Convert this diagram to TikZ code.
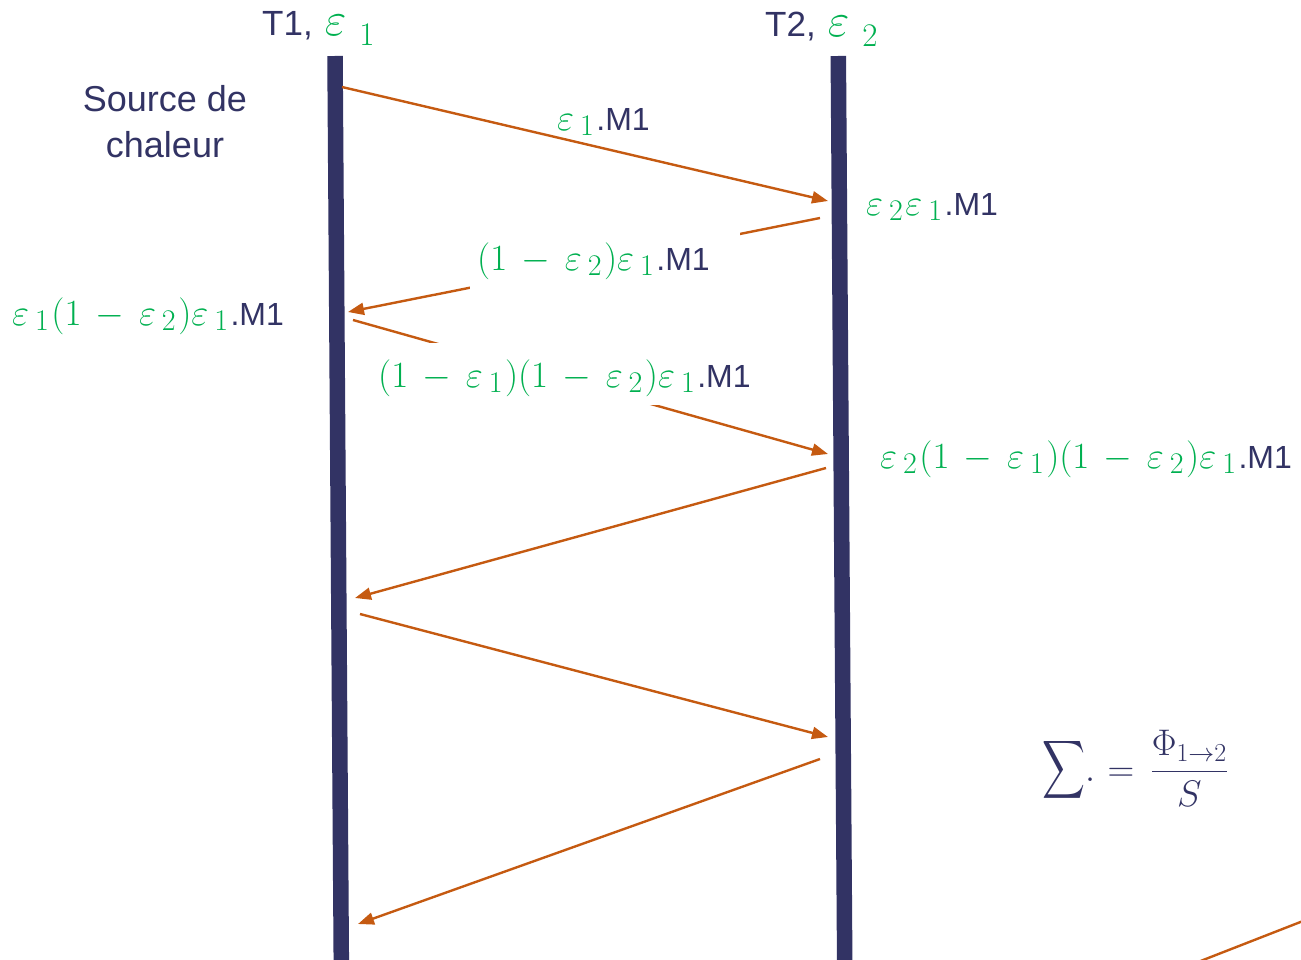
\RequirePackage{fix-cm}
\documentclass[tikz,border=0pt]{standalone}
\usepackage{exscale}
\usepackage{graphicx}
\usepackage[no-math]{fontspec}
\setmainfont{Liberation Sans}
\usetikzlibrary{arrows.meta}
\definecolor{navy}{RGB}{50,51,100}
\definecolor{rust}{RGB}{197,90,17}
\definecolor{grn}{RGB}{0,176,80}
\medmuskip=7mu plus 2mu minus 4mu\relax
\newcommand{\ep}[1]{\varepsilon\kern6pt\lower5pt\hbox{\fontsize{30}{32}\selectfont$#1$}\kern2.5pt}
\newcommand{\hep}[1]{\varepsilon\kern13pt\lower10pt\hbox{\fontsize{33}{36}\selectfont$#1$}}
\newcommand{\mone}{\textcolor{navy}{\fontsize{32}{38}\selectfont.M1}}
\begin{document}
\begin{tikzpicture}[x=1pt,y=-1pt,
  bar/.style={line width=15.5pt, draw=navy},
  ray/.style={draw=rust, line width=2.4pt, -{Triangle[length=16pt,width=12pt]}},
  plainray/.style={draw=rust, line width=2.4pt},
  lbl/.style={inner sep=0pt, text=grn, font=\fontsize{37}{40}\selectfont},
  mask/.style={lbl, fill=white, inner xsep=7pt, inner ysep=0pt},
  head/.style={inner sep=0pt, text=navy, font=\fontsize{35}{40}\selectfont},
  frm/.style={inner sep=0pt, text=navy}]
\useasboundingbox (0,0) rectangle (1301,960);
% bars
\coordinate (b1t) at (335,56);   \coordinate (b1b) at (341.3,960);
\coordinate (b2t) at (838.3,56); \coordinate (b2b) at (844.7,960);
\draw[bar] (b1t) -- (b1b);
\draw[bar] (b2t) -- (b2b);
% headings
\node[head, anchor=base west] (h1) at (262,36) {T1,\kern12pt{\fontsize{47}{50}\selectfont$\color{grn}\hep1$}};
\node[head, anchor=base west] (h2) at (765,37) {T2,\kern12pt{\fontsize{47}{50}\selectfont$\color{grn}\hep2$}};
\node[head, align=center, font=\fontsize{36}{46}\selectfont] (src) at (165,122) {Source de\\chaleur};
% ray end points
\coordinate (a1s) at (342,87);  \coordinate (a1e) at (828,201);
\coordinate (a2s) at (820,218); \coordinate (a2e) at (348,312);
\coordinate (a3s) at (353,320); \coordinate (a3e) at (828,454);
\coordinate (a4s) at (826,468); \coordinate (a4e) at (355,598);
\coordinate (a5s) at (360,614); \coordinate (a5e) at (828,737);
\coordinate (a6s) at (820,759); \coordinate (a6e) at (358,924);
\coordinate (a7s) at (1198,962); \coordinate (a7e) at (1303,921);
\draw[ray] (a1s) -- (a1e);
\draw[ray] (a2s) -- (a2e);
\draw[ray] (a3s) -- (a3e);
\draw[ray] (a4s) -- (a4e);
\draw[ray] (a5s) -- (a5e);
\draw[ray] (a6s) -- (a6e);
\draw[plainray] (a7s) -- (a7e);
% labels
\node[lbl, anchor=base west] (l1) at (557,131) {$\ep1$\mone};
\node[lbl, anchor=base west] (l2) at (866,216) {$\ep2\ep1$\mone};
\node[mask, anchor=base west, text width=256pt, align=left, text height=42pt, text depth=23pt] (l3) at (470,270) {$(1-\ep2)\ep1$\mone};
\node[lbl, anchor=base west] (l4) at (12,325) {$\ep1(1-\ep2)\ep1$\mone};
\node[mask, anchor=base west, text height=44pt, text depth=18pt] (l5) at (371,387) {$(1-\ep1)(1-\ep2)\ep1$\mone};
\node[lbl, anchor=base west] (l6) at (880,468) {$\ep2(1-\ep1)(1-\ep2)\ep1$\mone};
% formula
\node[frm] (sig) at (1063.5,769.5) {\resizebox*{43pt}{65pt}{$\displaystyle\sum$}};
\node[frm, anchor=base west, font=\fontsize{37}{40}\selectfont] (eq) at (1085,781) {$\displaystyle.\mkern6mu{=}\mkern8mu\frac{\Phi_{1\to 2}}{S}$};
\end{tikzpicture}
\end{document}
